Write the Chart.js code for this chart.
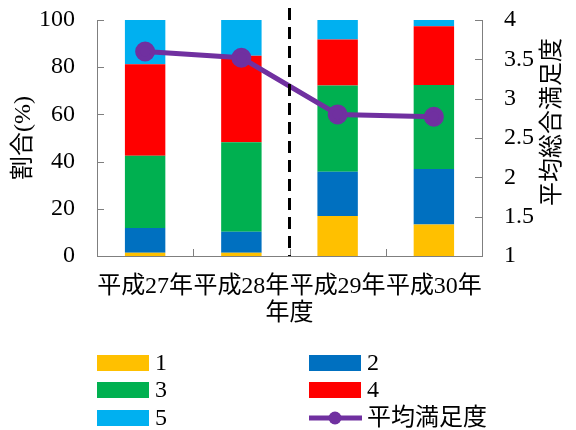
<!DOCTYPE html>
<html>
<head>
<meta charset="utf-8">
<script src="https://cdn.jsdelivr.net/npm/chart.js@4.4.1/dist/chart.umd.min.js"></script>
<style>
  html, body { margin: 0; padding: 0; background: #fff; }
  #wrap { width: 576px; height: 430px; }
</style>
</head>
<body>
<div id="wrap"><canvas id="mychart" width="576" height="430"></canvas></div>
<script>
var years = ['平成27年', '平成28年', '平成29年', '平成30年']
var rate1 = [1.4, 1.4, 16.9, 13.4]
var rate2 = [10.5, 8.9, 18.8, 23.5]
var rate3 = [30.6, 37.9, 36.5, 35.6]
var rate4 = [38.7, 36.7, 19.5, 24.8]
var rate5 = [18.8, 15.1, 8.3, 2.7]
var avgScore = [3.60, 3.52, 2.80, 2.77]

var FONT = "'Liberation Serif', 'Noto Sans CJK JP', serif"
var AXIS = '#7f7f7f'
Chart.defaults.font.family = FONT
Chart.defaults.font.size = 24
Chart.defaults.color = '#000'

// inward tick marks, the dashed divider, axis titles and the two-column legend
var extras = {
  id: 'extras',
  afterDatasetsDraw: function(chart) {
    var ctx = chart.ctx
    var a = chart.chartArea
    var x = chart.scales.x, y = chart.scales.y, y1 = chart.scales.y1
    ctx.save()
    ctx.strokeStyle = AXIS
    ctx.lineWidth = 1
    ctx.beginPath()
    y.ticks.forEach(function(t) {
      var py = Math.round(y.getPixelForValue(t.value)) + 0.5
      ctx.moveTo(a.left, py); ctx.lineTo(a.left + 7, py)
    })
    y1.ticks.forEach(function(t) {
      var py = Math.round(y1.getPixelForValue(t.value)) + 0.5
      ctx.moveTo(a.right, py); ctx.lineTo(a.right - 7, py)
    })
    for (var i = 1; i < years.length; i++) {
      var px = Math.round((x.getPixelForValue(i - 1) + x.getPixelForValue(i)) / 2) + 0.5
      ctx.moveTo(px, a.bottom); ctx.lineTo(px, a.bottom - 7)
    }
    ctx.stroke()

    // divider between 平成28年 and 平成29年
    var dx = (x.getPixelForValue(1) + x.getPixelForValue(2)) / 2
    ctx.strokeStyle = '#000'
    ctx.lineWidth = 3
    ctx.setLineDash([12, 7])
    ctx.beginPath()
    ctx.moveTo(dx, 8); ctx.lineTo(dx, a.bottom)
    ctx.stroke()
    ctx.setLineDash([])

    ctx.fillStyle = '#000'
    ctx.font = '24px ' + FONT
    ctx.textAlign = 'center'
    ctx.textBaseline = 'middle'
    ctx.fillText('年度', (a.left + a.right) / 2, 314)

    ctx.save()
    ctx.translate(24, 138)
    ctx.rotate(-Math.PI / 2)
    ctx.fillText('割合(%)', 0, 0)
    ctx.restore()
    ctx.save()
    ctx.translate(553, 122)
    ctx.rotate(-Math.PI / 2)
    ctx.fillText('平均総合満足度', 0, 0)
    ctx.restore()

    // legend
    var cols = [97, 309]
    var rows = [363, 390, 418]
    ctx.textAlign = 'left'
    chart.data.datasets.forEach(function(ds, k) {
      var bx = cols[k % 2], by = rows[Math.floor(k / 2)]
      if (ds.type === 'line') {
        ctx.strokeStyle = ds.borderColor
        ctx.lineWidth = 5
        ctx.beginPath()
        ctx.moveTo(bx, by); ctx.lineTo(bx + 53, by)
        ctx.stroke()
        ctx.fillStyle = ds.borderColor
        ctx.beginPath()
        ctx.arc(bx + 26, by, 6.5, 0, Math.PI * 2)
        ctx.fill()
      } else {
        ctx.fillStyle = ds.backgroundColor
        ctx.fillRect(bx, by - 8, 52, 16)
      }
      ctx.fillStyle = '#000'
      ctx.fillText(ds.label, bx + 58, by + 1)
    })
    ctx.restore()
  }
}

function fixSide(w) {
  return function(s) {
    s.width = w
    s.paddingTop = 0
    s.paddingBottom = 0
  }
}

var mychart = document.getElementById('mychart').getContext('2d')
var chart = new Chart(mychart, {
  type: 'bar',
  data: {
    labels: years,
    datasets: [
      { label: '1', data: rate1, backgroundColor: '#FFC000', yAxisID: 'y', order: 2 },
      { label: '2', data: rate2, backgroundColor: '#0070C0', yAxisID: 'y', order: 2 },
      { label: '3', data: rate3, backgroundColor: '#00B050', yAxisID: 'y', order: 2 },
      { label: '4', data: rate4, backgroundColor: '#FF0000', yAxisID: 'y', order: 2 },
      { label: '5', data: rate5, backgroundColor: '#00B0F0', yAxisID: 'y', order: 2 },
      { label: '平均満足度', type: 'line', data: avgScore, yAxisID: 'y1', order: 1,
        borderColor: '#7030A0', backgroundColor: '#7030A0', borderWidth: 5,
        pointRadius: 7.5, pointHoverRadius: 7.5, pointBackgroundColor: '#7030A0' }
    ]
  },
  options: {
    responsive: false,
    animation: false,
    layout: { padding: { top: 20, left: 0, right: 0, bottom: 0 } },
    datasets: { bar: { categoryPercentage: 1, barPercentage: 0.42 } },
    plugins: { legend: { display: false }, tooltip: { enabled: false } },
    scales: {
      x: {
        stacked: true,
        afterFit: function(s) { s.height = 174; s.paddingLeft = 0; s.paddingRight = 0 },
        grid: { display: false, drawTicks: false },
        border: { color: AXIS, width: 1 },
        ticks: { font: { family: FONT, size: 24 }, padding: 16, maxRotation: 0, autoSkip: false }
      },
      y: {
        stacked: true, min: 0, max: 100,
        afterFit: fixSide(97),
        grid: { display: false, drawTicks: false },
        border: { color: AXIS, width: 1 },
        ticks: { stepSize: 20, font: { family: FONT, size: 24 }, padding: 22 }
      },
      y1: {
        position: 'right', min: 1, max: 4,
        afterFit: fixSide(94),
        grid: { display: false, drawTicks: false },
        border: { color: AXIS, width: 1 },
        ticks: { stepSize: 0.5, font: { family: FONT, size: 24 }, padding: 22,
          callback: function(v) { return String(v) } }
      }
    }
  },
  plugins: [extras]
})
</script>
</body>
</html>
